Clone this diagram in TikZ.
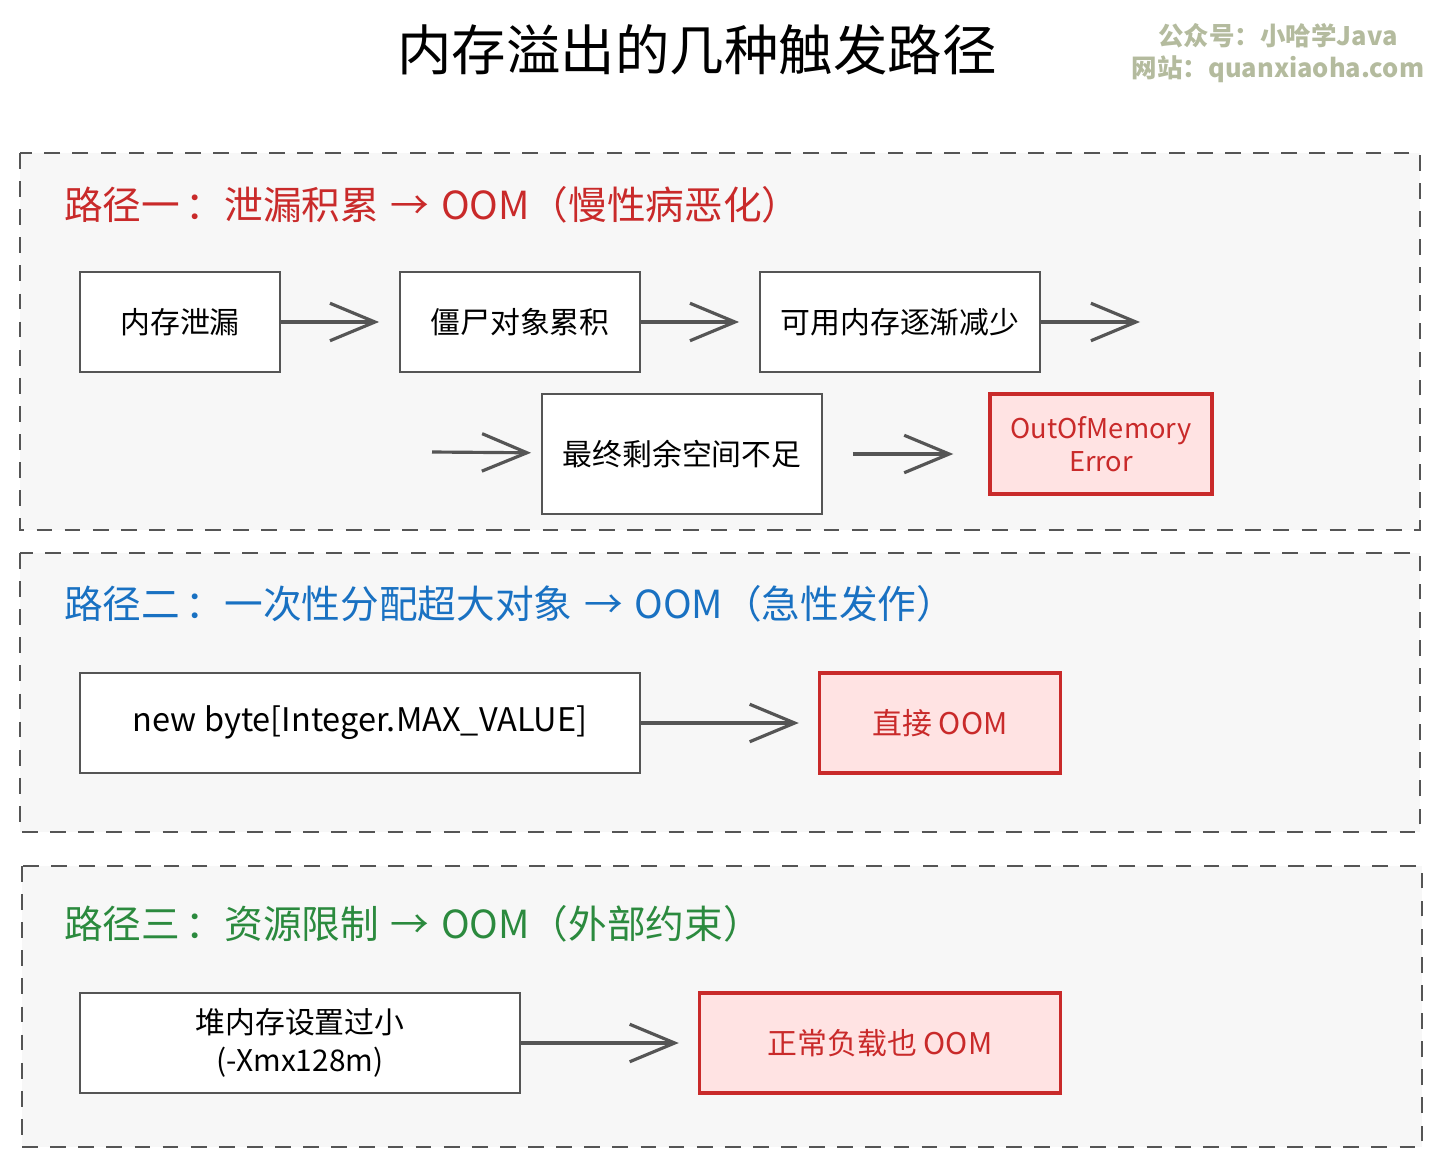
\documentclass[tikz,border=0pt]{standalone}
\usepackage{fontspec}
\setmainfont{Noto Sans CJK SC}
\usetikzlibrary{arrows.meta}
\definecolor{panelgray}{HTML}{F7F7F7}
\definecolor{linegray}{HTML}{555555}
\definecolor{oomred}{HTML}{C92A2A}
\definecolor{oomfill}{HTML}{FFE3E3}
\definecolor{pathblue}{HTML}{1971C2}
\definecolor{pathgreen}{HTML}{2B8A3E}
\definecolor{markgray}{HTML}{B4BB9E}
\begin{document}
\begin{tikzpicture}[x=0.02cm, y=-0.02cm,
  panel/.style = {draw=linegray, line width=1.2pt, fill=panelgray,
    dash pattern=on 9pt off 7pt},
  heading/.style = {anchor=west, font=\fontsize{22}{26}\selectfont},
  stepbox/.style = {draw=linegray, line width=1.1pt, fill=white,
    minimum height=2cm, align=center, font=\fontsize{17}{22}\selectfont},
  oombox/.style = {stepbox, draw=oomred, line width=2pt, fill=oomfill,
    text=oomred},
  flow/.style = {draw=linegray, line width=1.8pt,
    -{Straight Barb[length=0.9cm, width=0.75cm, line width=1.8pt]}}]
  \useasboundingbox (0,0) rectangle (1442,1166);
  \node (title) at (697,50) {\fontsize{31}{36}\selectfont 内存溢出的几种触发路径};
  \node[text=markgray, font=\bfseries\fontsize{14.5}{18.5}\selectfont, align=center]
    (mark) at (1278,53) {公众号：小哈学Java\\网站：quanxiaoha.com};

  \draw[panel] (20,153) rectangle (1420,530);
  \draw[panel] (20,553) rectangle (1420,832);
  \draw[panel] (22,866) rectangle (1422,1147);

  \node[heading, text=oomred] (h1) at (58,205)
    {路径一\hspace{0.15em}：泄漏积累\hspace{0.3em}→\hspace{0.3em}OOM（慢性病恶化）};
  \node[heading, text=pathblue] (h2) at (58,604)
    {路径二\hspace{0.15em}：一次性分配超大对象\hspace{0.3em}→\hspace{0.3em}OOM（急性发作）};
  \node[heading, text=pathgreen] (h3) at (58,924)
    {路径三\hspace{0.15em}：资源限制\hspace{0.3em}→\hspace{0.3em}OOM（外部约束）};

  \node[stepbox, minimum width=4cm] (leak) at (180,322) {内存泄漏};
  \node[stepbox, minimum width=4.8cm] (zombie) at (520,322) {僵尸对象累积};
  \node[stepbox, minimum width=5.6cm] (shrink) at (900,322) {可用内存逐渐减少};
  \node[stepbox, minimum width=5.6cm, minimum height=2.4cm] (lack) at (682,454) {最终剩余空间不足};
  \node[oombox, minimum width=4.44cm, font=\fontsize{15.5}{19}\selectfont]
    (error) at (1101,444) {OutOfMemory\\Error};
  \coordinate (shrinkout) at (1140,322);
  \coordinate (lackin) at (432,452);
  \draw[flow, shorten >=0.4cm] (leak) -- (zombie);
  \draw[flow, shorten >=0.4cm] (zombie) -- (shrink);
  \draw[flow] (shrink) -- (shrinkout);
  \draw[flow, shorten >=0.2cm] (lackin) -- (lack);
  \draw[flow, shorten <=0.6cm, shorten >=0.7cm] (lack.east) -- (error.west |- lack.east);

  \node[stepbox, minimum width=11.2cm, font=\fontsize{18.5}{22}\selectfont]
    (alloc) at (360,723) {new byte[Integer.MAX\_VALUE]};
  \node[oombox, minimum width=4.82cm] (direct) at (940,723) {直接 OOM};
  \draw[flow, shorten >=0.38cm] (alloc) -- (direct);

  \node[stepbox, minimum width=8.8cm] (heap) at (300,1043) {堆内存设置过小\\(-Xmx128m)};
  \node[oombox, minimum width=7.22cm] (normal) at (880,1043) {正常负载也 OOM};
  \draw[flow, shorten >=0.38cm] (heap) -- (normal);
\end{tikzpicture}
\end{document}
